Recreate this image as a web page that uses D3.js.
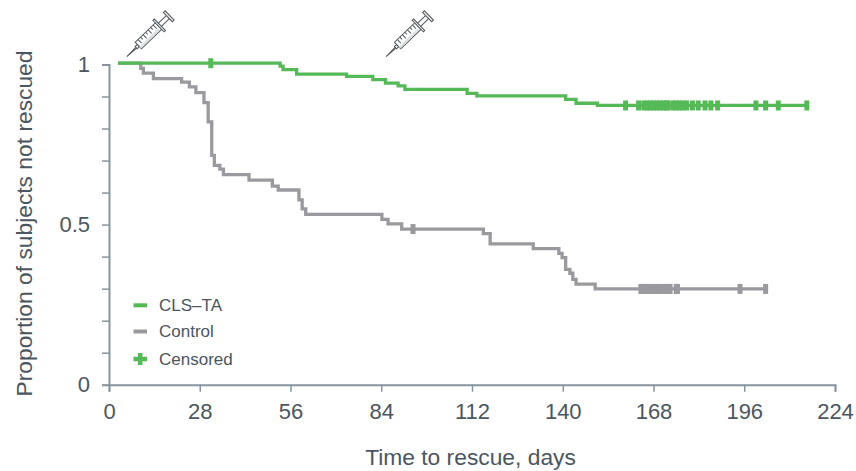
<!DOCTYPE html>
<html>
<head>
<meta charset="utf-8">
<script src="https://cdn.jsdelivr.net/npm/d3@7"></script>
<style>
  html, body { margin: 0; padding: 0; background: #fff; }
  text { font-family: "Liberation Sans", Arial, sans-serif; fill: #4b5661; }
</style>
</head>
<body>
<div id="chart"></div>
<script>
const xTicks = [0, 28, 56, 84, 112, 140, 168, 196, 224];
const yTicks = [0, 0.1, 0.2, 0.3, 0.4, 0.5, 0.6, 0.7, 0.8, 0.9, 1];
const yLabels = [0, 0.5, 1];

const clsTaDays = [2.8, 52.8, 53.7, 57.9, 73.3, 81.4, 85.3, 89.2, 91.3, 110.5, 113.5, 140.9, 144.1, 150.7, 215.3];
const clsTaSurv = [1, 0.991, 0.98, 0.966, 0.959, 0.949, 0.938, 0.929, 0.918, 0.906, 0.898, 0.887, 0.875, 0.868, 0.868];
const clsTaCensored = [31.4, 159.4, 163.4, 165, 166, 167, 168, 169, 170, 171, 172, 172.5, 174, 175, 176, 177, 178.2, 180, 181.8, 183.9, 185.7, 187.8, 199.6, 202.6, 206.5, 215.3];

const controlDays = [2.8, 9.8, 10.6, 13.7, 22.4, 24.8, 26.8, 29.3, 30.6, 31.7, 32.5, 34.2, 35.3, 43.2, 50.4, 52.2, 58.6, 59.6, 60.7, 84.2, 86.1, 90.3, 115.5, 117.6, 130.9, 138.8, 139.8, 140.9, 142.2, 143.1, 144.1, 150, 202.6];
const controlSurv = [1, 0.984, 0.969, 0.952, 0.941, 0.926, 0.908, 0.877, 0.817, 0.712, 0.681, 0.669, 0.652, 0.635, 0.616, 0.604, 0.573, 0.545, 0.528, 0.512, 0.498, 0.482, 0.468, 0.436, 0.421, 0.406, 0.393, 0.356, 0.344, 0.325, 0.31, 0.295, 0.295];
const controlCensored = [93.8, 164.1, 165, 166, 167, 168, 169, 169.7, 171.1, 172, 173.1, 175, 175.4, 194.7, 202.6];

const injectionDays = [5.5, 85.5];
const legendNames = [`CLS\u2013TA`, `Control`, `Censored`];

const green = `#55b957`;
const grey = `#9a9a9e`;
const axisColor = `#8795a1`;

const width = 856;
const height = 471;

const x = d3.scaleLinear().domain([0, 224]).range([109, 835]);
const y = d3.scaleLinear().domain([0, 1]).range([384.7, 64.5]);

const svg = d3
  .select(`#chart`)
  .append(`svg`)
  .attr(`width`, width)
  .attr(`height`, height)
  .style(`display`, `block`);

// axes
const gx = svg
  .append(`g`)
  .attr(`transform`, `translate(0, ${y(0)})`)
  .call(d3.axisBottom(x).tickValues(xTicks).tickSize(7).tickSizeOuter(7).tickPadding(12));

const gy = svg
  .append(`g`)
  .attr(`transform`, `translate(${x(0)}, 0)`)
  .call(
    d3
      .axisLeft(y)
      .tickValues(yTicks)
      .tickSize(7)
      .tickSizeOuter(7)
      .tickPadding(12)
      .tickFormat((d) => (yLabels.includes(d) ? d3.format(`~g`)(d) : ``))
  );

[gx, gy].forEach((g) => {
  g.selectAll(`path, line`).attr(`stroke`, axisColor).attr(`stroke-width`, 2);
  g.selectAll(`text`).style(`font-size`, `22px`).attr(`fill`, `#4b5661`);
});
gx.selectAll(`line`).attr(`stroke-width`, 1.5);
gy.selectAll(`line`).attr(`stroke-width`, 1.5);

// the curves sit slightly above the tick for 1 in the original
const curves = svg.append(`g`).attr(`transform`, `translate(0, -1.3)`);

const line = d3
  .line()
  .x((d) => x(d[0]))
  .y((d) => y(d[1]))
  .curve(d3.curveStepAfter);

function stepValue(days, surv, day) {
  const i = d3.bisectRight(days, day) - 1;
  return surv[Math.max(i, 0)];
}

function drawSeries(days, surv, censored, color) {
  curves
    .append(`path`)
    .attr(`d`, line(days.map((d, i) => [d, surv[i]])))
    .attr(`fill`, `none`)
    .attr(`stroke`, color)
    .attr(`stroke-width`, 3.3);
  curves
    .selectAll(null)
    .data(censored)
    .enter()
    .append(`rect`)
    .attr(`x`, (d) => x(d) - 2.5)
    .attr(`y`, (d) => y(stepValue(days, surv, d)) - 5)
    .attr(`width`, 5)
    .attr(`height`, 10)
    .attr(`fill`, color);
}

drawSeries(controlDays, controlSurv, controlCensored, grey);
drawSeries(clsTaDays, clsTaSurv, clsTaCensored, green);

// syringes, drawn along +x from the needle tip then rotated
const syringes = svg
  .selectAll(`g.syringe`)
  .data(injectionDays)
  .enter()
  .append(`g`)
  .attr(`class`, `syringe`)
  .attr(`transform`, (d) => `translate(${x(d)}, 56.7) rotate(-44)`)
  .attr(`fill`, `none`)
  .attr(`stroke`, `#55585c`)
  .attr(`stroke-width`, 1);

syringes.append(`path`).attr(`d`, `M0,0L13,-0.6M0,0L13,0.6`);
syringes.append(`path`).attr(`d`, `M13,-1.5L16,-1.5L16,1.5L13,1.5Z`).attr(`fill`, `#fff`);
syringes.append(`rect`).attr(`x`, 16).attr(`y`, -4.5).attr(`width`, 28).attr(`height`, 9).attr(`fill`, `#fff`);
syringes.append(`rect`).attr(`x`, 16).attr(`y`, 1.5).attr(`width`, 26).attr(`height`, 2.5).attr(`fill`, `#dfe0e2`).attr(`stroke`, `none`);
syringes
  .append(`path`)
  .attr(`d`, d3.range(20, 43, 3.5).map((d, i) => `M${d},-4.5v${i % 2 ? 3 : 5}`).join(``));
syringes.append(`path`).attr(`d`, `M44,-8L46,-8L46,8L44,8Z`).attr(`fill`, `#e6e6e8`);
syringes.append(`path`).attr(`d`, `M46,-2.2L57,-2.2M46,2.2L57,2.2`);
syringes.append(`path`).attr(`d`, `M57,-6.5L59.5,-6.5L59.5,6.5L57,6.5Z`).attr(`fill`, `#e6e6e8`);

// legend
const legendY = [305.3, 331.5, 359];
const legendX = 133.5;
svg
  .selectAll(`text.legend`)
  .data(legendNames)
  .enter()
  .append(`text`)
  .attr(`class`, `legend`)
  .attr(`x`, 159)
  .attr(`y`, (d, i) => legendY[i])
  .attr(`dy`, `0.35em`)
  .style(`font-size`, `17px`)
  .text((d) => d);

[green, grey].forEach((c, i) => {
  svg.append(`rect`).attr(`x`, legendX).attr(`y`, legendY[i] - 2).attr(`width`, 13.5).attr(`height`, 4).attr(`fill`, c);
});
svg
  .append(`path`)
  .attr(`d`, `M${legendX},${legendY[2]}h13.5M${legendX + 6.75},${legendY[2] - 6}v12`)
  .attr(`stroke`, green)
  .attr(`stroke-width`, 4.5);

// axis titles
svg
  .append(`text`)
  .attr(`x`, 470.5)
  .attr(`y`, 465)
  .attr(`text-anchor`, `middle`)
  .style(`font-size`, `22.8px`)
  .text(`Time to rescue, days`);

svg
  .append(`text`)
  .attr(`transform`, `translate(32, 223.5) rotate(-90)`)
  .attr(`text-anchor`, `middle`)
  .style(`font-size`, `22.8px`)
  .text(`Proportion of subjects not rescued`);
</script>
</body>
</html>
